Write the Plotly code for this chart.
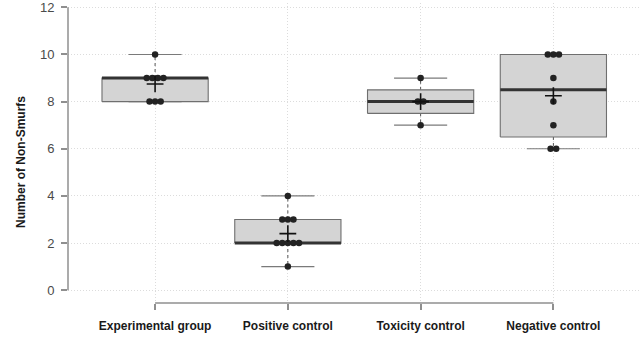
import numpy as np
import plotly.graph_objects as go

# ---------------- data ----------------
categories = ["Experimental group", "Positive control", "Toxicity control", "Negative control"]
experimental = [10, 9, 9, 9, 9, 8, 8, 8]
positive = [4, 3, 3, 3, 2, 2, 2, 2, 2, 1]
toxicity = [9, 8, 8, 7]
negative = [10, 10, 10, 9, 8, 7, 6, 6]
y_ticks = [0, 2, 4, 6, 8, 10, 12]
y_title = "Number of Non-Smurfs"

groups = [experimental, positive, toxicity, negative]

# ---------------- styles ----------------
BOX_HALF = 0.4
CAP_HALF = 0.2
DOT_STEP = 0.042
FONT = "Liberation Sans, Arial, sans-serif"
AXIS_GREY = "#8f8f8f"
GRID = "#dcdcdc"


def fivenum(v):
    s = np.sort(np.asarray(v, float))
    n = len(s)
    n4 = np.floor((n + 3) / 2) / 2
    d = np.array([1, n4, (n + 1) / 2, n + 1 - n4, n]) - 1
    return 0.5 * (s[np.floor(d).astype(int)] + s[np.ceil(d).astype(int)])


fig = go.Figure()

for i, g in enumerate(groups):
    mn, q1, med, q3, mx = fivenum(g)
    # whiskers (dashed)
    fig.add_trace(go.Scatter(
        x=[i, i, None, i, i], y=[q3, mx, None, q1, mn], mode="lines",
        line=dict(color="#555555", width=1, dash="dot"), hoverinfo="skip"))
    # caps
    fig.add_trace(go.Scatter(
        x=[i - CAP_HALF, i + CAP_HALF, None, i - CAP_HALF, i + CAP_HALF],
        y=[mx, mx, None, mn, mn], mode="lines",
        line=dict(color="#7a7a7a", width=1.2), hoverinfo="skip"))
    # box
    fig.add_trace(go.Scatter(
        x=[i - BOX_HALF, i + BOX_HALF, i + BOX_HALF, i - BOX_HALF, i - BOX_HALF],
        y=[q1, q1, q3, q3, q1], mode="lines", fill="toself",
        fillcolor="#d4d4d4", line=dict(color="#6f6f6f", width=1.1), hoverinfo="skip"))
    # median
    fig.add_trace(go.Scatter(
        x=[i - BOX_HALF, i + BOX_HALF], y=[med, med], mode="lines",
        line=dict(color="#333333", width=3), hoverinfo="skip"))
    # points (centered stacking of equal values)
    vals, counts = np.unique(g, return_counts=True)
    px, py = [], []
    for v, k in zip(vals, counts):
        for j in range(k):
            px.append(i + (j - (k - 1) / 2) * DOT_STEP)
            py.append(v)
    fig.add_trace(go.Scatter(
        x=px, y=py, mode="markers",
        marker=dict(color="#222222", size=6.5, line=dict(width=0))))

# means
means = [float(np.mean(g)) for g in groups]
fig.add_trace(go.Scatter(
    x=list(range(len(groups))), y=means, mode="markers",
    marker=dict(symbol="cross-thin", size=12, color="#111111",
                line=dict(color="#111111", width=1.6))))

# axis lines (capped)
fig.add_shape(type="line", xref="paper", yref="y", x0=0, x1=0,
              y0=min(y_ticks), y1=max(y_ticks), line=dict(color=AXIS_GREY, width=1.5))
fig.add_shape(type="line", xref="x", yref="paper", x0=0, x1=len(categories) - 1,
              y0=0, y1=0, line=dict(color=AXIS_GREY, width=1.5))

fig.add_annotation(
    text=y_title, xref="paper", yref="paper", x=0, y=0.47, xshift=-47,
    textangle=-90, showarrow=False, xanchor="center", yanchor="middle",
    font=dict(family=FONT, size=12, color="#1a1a1a", weight="bold"))

fig.update_layout(
    width=641, height=337,
    margin=dict(l=68, r=0, t=0, b=34),
    paper_bgcolor="white", plot_bgcolor="white",
    showlegend=False,
    xaxis=dict(
        range=[-0.656, 3.66], tickmode="array",
        tickvals=list(range(len(categories))), ticktext=categories,
        showgrid=True, gridcolor=GRID, griddash="1px,2px", gridwidth=1,
        zeroline=False, showline=False,
        ticks="outside", ticklen=6, tickwidth=1.5, tickcolor=AXIS_GREY,
        ticklabelstandoff=6,
        tickfont=dict(family=FONT, size=12, color="#1a1a1a", weight="bold")),
    yaxis=dict(
        range=[-0.546, 12.185], tickmode="array", tickvals=y_ticks,
        showgrid=True, gridcolor=GRID, griddash="1px,2px", gridwidth=1,
        zeroline=False, showline=False,
        ticks="outside", ticklen=6, tickwidth=1.5, tickcolor=AXIS_GREY,
        ticklabelstandoff=4, ticklabeloverflow="allow",
        tickfont=dict(family=FONT, size=13, color="#4a4a4a")),
)

fig.write_html(
    "out.html",
    config={"displayModeBar": False},
    post_script="document.body.style.margin='0';document.body.style.overflow='hidden';",
)
